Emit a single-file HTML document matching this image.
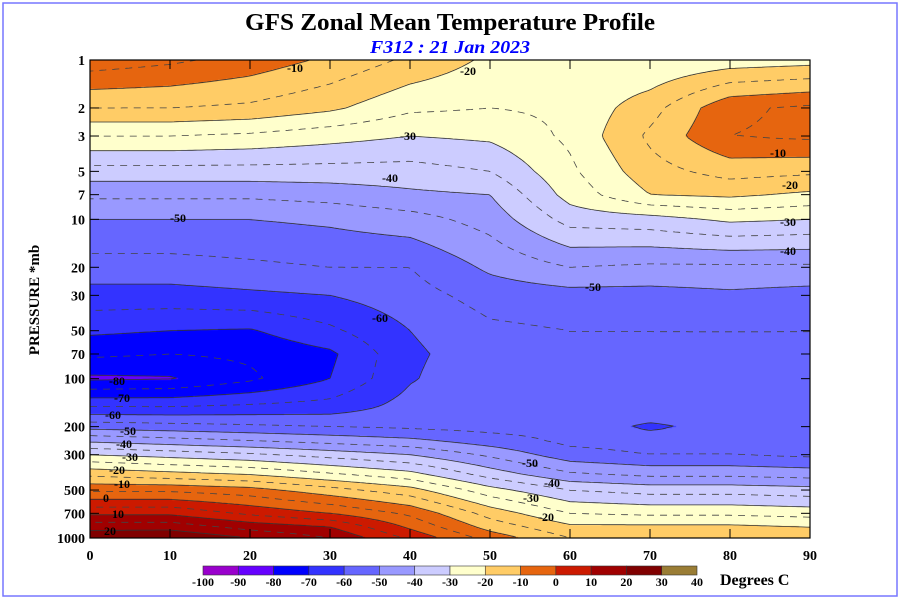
<!DOCTYPE html>
<html><head><meta charset="utf-8">
<style>
html,body{margin:0;padding:0;background:#fff;}
#wrap{position:relative;width:900px;height:600px;overflow:hidden;}
#fill{position:absolute;left:90px;top:60px;}
#svg{position:absolute;left:0;top:0;}
text{font-family:"Liberation Serif",serif;font-weight:bold;}
</style></head>
<body>
<div id="wrap">
<canvas id="fill" width="720" height="478"></canvas>
<svg id="svg" width="900" height="600" xmlns="http://www.w3.org/2000/svg">
  <rect x="3" y="3" width="894" height="593" fill="none" stroke="#7777ff" stroke-width="1.5"/>
  <text x="450" y="30" text-anchor="middle" font-size="24" textLength="410" lengthAdjust="spacingAndGlyphs">GFS Zonal Mean Temperature Profile</text>
  <text x="450" y="53" text-anchor="middle" font-size="18" font-style="italic" fill="#0000ff" textLength="160" lengthAdjust="spacingAndGlyphs">F312 : 21 Jan 2023</text>
  <g id="lines"></g>
  <g id="clabels"></g>
  <rect x="90" y="60" width="720" height="478" fill="none" stroke="#000" stroke-width="1.2"/>
  <g id="axes"></g>
  <text transform="translate(39,300) rotate(-90)" text-anchor="middle" font-size="15">PRESSURE *mb</text>
  <g id="cbar"></g>
  <text x="720" y="585" font-size="16">Degrees C</text>
</svg>
</div>
<script>
const pressures=[1,2,3,5,7,10,20,30,50,70,100,150,200,250,300,400,500,700,850,1000];
const lats=[0,10,20,30,40,50,60,70,80,90];
const T_p1=[-2,-4,-7,-11,-16,-21,-24,-25,-23,-22];
const T_p2=[-15,-15,-16,-19,-24,-25,-24,-17,-6,-4];
const T_p3=[-25,-25,-26,-28,-30,-29,-24,-14,-5,-4];
const T_p5=[-37,-37,-37,-37,-37,-35,-26,-17,-13,-14];
const T_p7=[-44,-44,-44,-43,-41,-40,-28,-20,-19,-21];
const T_p10=[-50,-50,-50,-49,-47,-43,-33,-32,-29,-30];
const T_p20=[-57,-57,-56,-55,-55,-49,-45,-46,-46,-46];
const T_p30=[-62,-62,-61,-60,-57,-53,-52,-52,-51,-52];
const T_p50=[-69,-70,-70.5,-66,-60,-56,-55,-55,-55,-55];
const T_p70=[-74,-75,-74,-71,-61,-57,-55.5,-55.5,-55.5,-55.5];
const T_p100=[-81,-80.5,-76,-70,-60.5,-56,-55.5,-55.5,-55.5,-55.5];
const T_p150=[-65,-65,-64,-63,-58,-56,-56,-56,-56,-56];
const T_p200=[-52,-53,-54,-55,-56,-57,-57,-61,-58,-60];
const T_p250=[-40,-42,-44,-46,-48,-52,-56,-57,-57,-58];
const T_p300=[-30,-32,-34,-37,-40,-46,-53,-55,-55,-56];
const T_p400=[-16,-18,-20,-24,-28,-37,-44,-46,-46,-47];
const T_p500=[-6,-6,-8,-13,-18,-28,-35,-37,-37,-38];
const T_p700=[9,9,4,0,-6,-17,-25,-26,-26,-27];
const T_p850=[18,18,13,10,-1,-12,-19,-19,-19,-20];
const T_p1000=[24,25,20,15,4,-7,-15,-16,-16,-17];
const field=[T_p1,T_p2,T_p3,T_p5,T_p7,T_p10,T_p20,T_p30,T_p50,T_p70,T_p100,T_p150,T_p200,T_p250,T_p300,T_p400,T_p500,T_p700,T_p850,T_p1000];
const cbLevels=[-100,-90,-80,-70,-60,-50,-40,-30,-20,-10,0,10,20,30,40];
const cbColors=["#9900cc","#6600ff","#0000ff","#3333ff","#6666ff","#9999ff","#ccccff","#ffffcc","#ffcc66","#e6650f","#cc1a00","#a00000","#800000","#9a7d35"];
const yTicks=[1,2,3,5,7,10,20,30,50,70,100,200,300,500,700,1000];
const xTicks=[0,10,20,30,40,50,60,70,80,90];

const X0=90,X1=810,Y0=60,Y1=538;
const xS=lat=>X0+(lat-0)/90*(X1-X0);
const yS=p=>Y0+Math.log10(p)/3*(Y1-Y0);
const levY=pressures.map(yS);
function val(px,py){
  let fx=(px-X0)/(X1-X0)*(lats.length-1);
  fx=Math.max(0,Math.min(lats.length-1.0001,fx));
  const i=Math.floor(fx),tx=fx-i;
  let j=0;
  if(py<=levY[0]){j=0;} else if(py>=levY[levY.length-1]){j=levY.length-2;}
  else{while(levY[j+1]<py)j++;}
  let ty=(py-levY[j])/(levY[j+1]-levY[j]);ty=Math.max(0,Math.min(1,ty));
  const a=field[j][i],b=field[j][i+1],c=field[j+1][i],d=field[j+1][i+1];
  return (a*(1-tx)+b*tx)*(1-ty)+(c*(1-tx)+d*tx)*ty;
}
function colorFor(v){
  for(let k=0;k<cbColors.length;k++){if(v<cbLevels[k+1])return cbColors[k];}
  return cbColors[cbColors.length-1];
}
const ctx=document.getElementById('fill').getContext('2d');
for(let y=0;y<478;y++){
  let run=null,start=0;
  for(let x=0;x<=720;x++){
    const c=x<720?colorFor(val(X0+x+0.5,Y0+y+0.5)):null;
    if(c!==run){ if(run){ctx.fillStyle=run;ctx.fillRect(start,y,x-start,1);} run=c;start=x;}
  }
}
const NS="http://www.w3.org/2000/svg";
function mk(tag,attrs){const e=document.createElementNS(NS,tag);for(const k in attrs)e.setAttribute(k,attrs[k]);return e;}
const step=3;
const nx=Math.floor((X1-X0)/step)+1, ny=Math.floor((Y1-Y0)/step)+1;
const G=[];
for(let j=0;j<ny;j++){G.push([]);for(let i=0;i<nx;i++){G[j].push(val(Math.min(X1,X0+i*step),Math.min(Y1,Y0+j*step)));}}
const linesG=document.getElementById('lines');
function key(p){return p[0].toFixed(1)+","+p[1].toFixed(1);}
for(let L=-95;L<=35;L+=5){
  const segs=[];
  for(let j=0;j<ny-1;j++)for(let i=0;i<nx-1;i++){
    const x=X0+i*step,y=Y0+j*step;
    const v=[G[j][i],G[j][i+1],G[j+1][i+1],G[j+1][i]];
    const P=[[x,y],[x+step,y],[x+step,y+step],[x,y+step]];
    const pts=[];
    for(let e=0;e<4;e++){let a=v[e],b=v[(e+1)%4],A=P[e],B=P[(e+1)%4];
      if((a<L)!==(b<L)){ if(a>b){[a,b]=[b,a];[A,B]=[B,A];}
        const t=(L-a)/(b-a);pts.push([A[0]+(B[0]-A[0])*t,A[1]+(B[1]-A[1])*t]);}}
    for(let k=0;k+1<pts.length;k+=2)segs.push([pts[k],pts[k+1]]);
  }
  if(!segs.length)continue;
  // chain segments
  const adj={};
  segs.forEach((s,idx)=>{[0,1].forEach(e=>{const k=key(s[e]);(adj[k]=adj[k]||[]).push(idx);});});
  const used=new Array(segs.length).fill(false);
  let d="";
  function walk(startIdx){
    let pts=[segs[startIdx][0],segs[startIdx][1]];used[startIdx]=true;
    for(let dir=0;dir<2;dir++){
      let cont=true;
      while(cont){cont=false;
        const end=pts[pts.length-1];const cand=adj[key(end)]||[];
        for(const c of cand){if(!used[c]){used[c]=true;const s=segs[c];
          pts.push(key(s[0])===key(end)?s[1]:s[0]);cont=true;break;}}
      }
      pts.reverse();
    }
    return pts;
  }
  for(let s=0;s<segs.length;s++){if(used[s])continue;
    const pts=walk(s);
    d+="M"+pts.map(p=>p[0].toFixed(1)+" "+p[1].toFixed(1)).join("L");
  }
  const solid=(L%10===0);
  const p=mk('path',{d:d,fill:"none",stroke:solid?"#333":"#444","stroke-width":"0.8","stroke-linejoin":"round"});
  if(!solid)p.setAttribute('stroke-dasharray','7 6');
  
  
  linesG.appendChild(p);
}
const labTxt=["-10","-20","-30","-40","-50","-60","-80","-70","-60","-50","-40","-30","-20","-10","0","10","20","-10","-20","-30","-40","-50","-50","-40","-30","-20"];
const labPos=[[295,72],[468,75],[408,140],[390,182],[178,222],[380,322],[117,385],[122,402],[113,419],[128,435],[124,448],[130,461],[117,474],[122,488],[106,502],[118,518],[110,535],[778,157],[790,189],[788,226],[788,255],[593,291],[530,467],[552,487],[531,502],[546,521]];
const clG=document.getElementById('clabels');
labTxt.forEach((t,k)=>{const e=mk('text',{x:labPos[k][0],y:labPos[k][1],"text-anchor":"middle","font-size":"12"});e.textContent=t;


clG.appendChild(e);});
const ax=document.getElementById('axes');
yTicks.forEach(p=>{const y=yS(p);
  const t=mk('line',{x1:X0,x2:X0+9,y1:y,y2:y,stroke:"#000","stroke-width":"1"});
  ax.appendChild(t);
  const t2=mk('line',{x1:X1-9,x2:X1,y1:y,y2:y,stroke:"#000","stroke-width":"1"});
  ax.appendChild(t2);
  const l=mk('text',{x:X0-5,y:y+5,"text-anchor":"end","font-size":"14"});l.textContent=p;
  ax.appendChild(l);});
xTicks.forEach(v=>{const x=xS(v);
  const t=mk('line',{x1:x,x2:x,y1:Y1,y2:Y1-9,stroke:"#000","stroke-width":"1"});
  ax.appendChild(t);
  const t2=mk('line',{x1:x,x2:x,y1:Y0,y2:Y0+9,stroke:"#000","stroke-width":"1"});
  ax.appendChild(t2);
  const l=mk('text',{x:x,y:560,"text-anchor":"middle","font-size":"14"});l.textContent=v;
  ax.appendChild(l);});
const cb=document.getElementById('cbar');
const cbX0=203,cbX1=697,cw=(cbX1-cbX0)/cbColors.length;
cbColors.forEach((c,k)=>{const r=mk('rect',{x:cbX0+k*cw,y:566,width:cw,height:9,fill:c,stroke:"#333","stroke-width":"0.6"});
  cb.appendChild(r);});
cbLevels.forEach((v,k)=>{const l=mk('text',{x:cbX0+k*cw,y:586,"text-anchor":"middle","font-size":"12"});l.textContent=v;
  cb.appendChild(l);});
</script>
</body></html>
